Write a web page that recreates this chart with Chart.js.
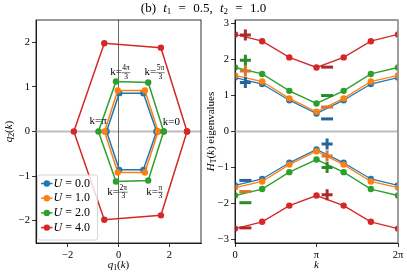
<!DOCTYPE html>
<html>
<head>
<meta charset="utf-8">
<script src="https://cdn.jsdelivr.net/npm/chart.js@4.4.1/dist/chart.umd.min.js"></script>
<style>
html, body { margin: 0; padding: 0; background: #fff; }
#wrap { position: relative; width: 407px; height: 272px; overflow: hidden; }
canvas { position: absolute; top: 0; }
#left { left: 0; }
#right { left: 205px; }
#title { position: absolute; top: 0px; left: 0; width: 407px; text-align: center;
  font: 13px "Liberation Serif", serif; color: #000; word-spacing: 4px; }
#title sub { font-size: 9px; vertical-align: -2px; line-height: 0; }
</style>
</head>
<body>
<div id="wrap">
<canvas id="left" width="205" height="272"></canvas>
<canvas id="right" width="202" height="272"></canvas>
<div id="title">(b) <i>t</i><sub>1</sub> = 0.5, <i>t</i><sub>2</sub> = 1.0</div>
</div>
<script>
// ---- values ----
const uValues = ['0.0', '1.0', '2.0', '4.0'];

// left panel: (q1, q2) at k = 0, pi/3, 2pi/3, pi, 4pi/3, 5pi/3, back to 0
const q1U0 = [1.50, 0.98, 0.03, -0.47, 0.03, 0.98, 1.50];
const q2U0 = [0, -0.86, -0.86, 0, 0.86, 0.86, 0];
const q1U1 = [1.56, 1.04, -0.03, -0.55, -0.03, 1.04, 1.56];
const q2U1 = [0, -0.92, -0.92, 0, 0.92, 0.92, 0];
const q1U2 = [1.78, 1.17, -0.10, -0.79, -0.10, 1.17, 1.78];
const q2U2 = [0, -1.10, -1.12, 0, 1.12, 1.10, 0];
const q1U4 = [2.70, 1.67, -0.56, -1.76, -0.56, 1.67, 2.70];
const q2U4 = [0, -1.88, -1.98, 0, 1.98, 1.88, 0];

// k labels on the left panel (text, numerator, denominator, anchor q1, q2)
const kNotes = [
  ['0', null, null, 2.08, 0.20],
  ['π', null, null, -0.80, 0.23],
  [null, '4π', '3', 0.07, 1.33],
  [null, '5π', '3', 1.42, 1.33],
  [null, '2π', '3', -0.04, -1.35],
  [null, 'π', '3', 1.42, -1.35]
];

// right panel: eigenvalues at k = 0, pi/3, ..., 2pi
const kGrid = [0, Math.PI / 3, 2 * Math.PI / 3, Math.PI, 4 * Math.PI / 3, 5 * Math.PI / 3, 2 * Math.PI];
const kTicks = [0, Math.PI, 2 * Math.PI];
const kTickLabels = ['0', 'π', '2π'];
const upU0 = [1.50, 1.32, 0.87, 0.50, 0.87, 1.32, 1.50];
const upU1 = [1.56, 1.39, 0.92, 0.55, 0.92, 1.39, 1.56];
const upU2 = [1.78, 1.60, 1.13, 0.78, 1.13, 1.60, 1.78];
const upU4 = [2.70, 2.51, 2.06, 1.78, 2.06, 2.51, 2.70];
const lowU0 = [-1.50, -1.32, -0.87, -0.50, -0.87, -1.32, -1.50];
const lowU1 = [-1.56, -1.39, -0.92, -0.55, -0.92, -1.39, -1.56];
const lowU2 = [-1.78, -1.60, -1.13, -0.78, -1.13, -1.60, -1.78];
const lowU4 = [-2.70, -2.51, -2.06, -1.78, -2.06, -2.51, -2.70];

// +/- sign markers: [k, value]
const plusU0 = [[0.40, 1.36], [3.55, -0.35]];
const plusU1 = [[0.40, 1.68], [3.55, -0.68]];
const plusU2 = [[0.40, 1.98], [3.55, -1.00]];
const plusU4 = [[0.40, 2.68], [3.55, -1.76]];
const minusU0 = [[3.55, 0.35], [0.40, -1.36]];
const minusU1 = [[3.55, 0.68], [0.40, -1.67]];
const minusU2 = [[3.55, 1.00], [0.40, -1.98]];
const minusU4 = [[3.55, 1.79], [0.40, -2.68]];

const colors = ['#1f77b4', '#ff7f0e', '#2ca02c', '#d62728'];
const signColors = ['#23669b', '#d8772b', '#2b8a2b', '#ab2a2b'];
const SERIF = '"Liberation Serif", serif';

// ---- helpers ----
function zip(xs, ys) { return xs.map((x, i) => ({ x: x, y: ys[i] })); }
function pairs(arr) { return arr.map(p => ({ x: p[0], y: p[1] })); }

// draws math-ish text: parts = [[text, style]] style '' roman, 'i' italic, 's' subscript
function drawRich(ctx, parts, x, y, size, align, rot) {
  ctx.save();
  ctx.translate(x, y);
  if (rot) ctx.rotate(rot);
  let w = 0;
  const items = parts.map(p => {
    const sub = p[1] === 's';
    const fs = sub ? size * 0.7 : size;
    const font = (p[1] === 'i' ? 'italic ' : '') + fs + 'px ' + SERIF;
    ctx.font = font;
    const tw = ctx.measureText(p[0]).width;
    w += tw;
    return { t: p[0], font: font, tw: tw, dy: sub ? size * 0.3 : 0 };
  });
  let cx = align === 'left' ? 0 : -w / 2;
  ctx.fillStyle = '#000';
  ctx.textAlign = 'left';
  ctx.textBaseline = 'middle';
  for (const it of items) {
    ctx.font = it.font;
    ctx.fillText(it.t, cx, it.dy);
    cx += it.tw;
  }
  ctx.restore();
}

function axis(min, max, ticks, labels, fit) {
  return {
    type: 'linear', min: min, max: max,
    afterBuildTicks: s => { s.ticks = ticks.map(v => ({ value: v })); },
    afterFit: fit,
    grid: { display: true, drawOnChartArea: false, tickLength: 4, tickColor: '#000', tickWidth: 0.8 },
    border: { display: true, color: '#000', width: 0.8 },
    ticks: {
      autoSkip: false, maxRotation: 0, padding: 2, color: '#000',
      font: { family: SERIF, size: 10.5 },
      callback: (v, i) => labels ? labels[i] : String(v).replace('-', '−')
    }
  };
}

function refLines(lines) {
  return {
    id: 'refLines',
    beforeDatasetsDraw(chart) {
      const { ctx, chartArea: a, scales } = chart;
      ctx.save();
      for (const l of lines) {
        ctx.strokeStyle = l.color;
        ctx.lineWidth = l.width;
        ctx.beginPath();
        if (l.axis === 'x') {
          const px = scales.x.getPixelForValue(l.value);
          ctx.moveTo(px, a.top); ctx.lineTo(px, a.bottom);
        } else {
          const py = scales.y.getPixelForValue(l.value);
          ctx.moveTo(a.left, py); ctx.lineTo(a.right, py);
        }
        ctx.stroke();
      }
      ctx.restore();
    }
  };
}

const frame = {
  id: 'frame',
  afterDatasetsDraw(chart) {
    const { ctx, chartArea: a } = chart;
    ctx.save();
    ctx.strokeStyle = '#000';
    ctx.lineWidth = 0.8;
    ctx.strokeRect(a.left, a.top, a.right - a.left, a.bottom - a.top);
    ctx.restore();
  }
};

// ---- left panel ----
const hexData = [[q1U0, q2U0], [q1U1, q2U1], [q1U2, q2U2], [q1U4, q2U4]];
const leftSets = hexData.map((d, i) => ({
  label: 'U = ' + uValues[i],
  data: zip(d[0], d[1]),
  showLine: true,
  borderColor: colors[i],
  backgroundColor: colors[i],
  borderWidth: 1.5,
  pointRadius: 3.2,
  pointBorderWidth: 0,
  order: 4 - i
}));

const leftExtras = {
  id: 'leftExtras',
  afterDraw(chart) {
    const { ctx, chartArea: a, scales: { x, y } } = chart;
    // k annotations
    for (const n of kNotes) {
      const px = x.getPixelForValue(n[3]);
      const py = y.getPixelForValue(n[4]);
      ctx.save();
      ctx.fillStyle = '#000';
      ctx.textBaseline = 'middle';
      if (n[0] !== null) {
        ctx.font = '11px ' + SERIF;
        ctx.textAlign = 'center';
        ctx.fillText('k=' + n[0], px, py);
      } else {
        ctx.font = '11px ' + SERIF;
        const w1 = ctx.measureText('k=').width;
        ctx.font = '7.5px ' + SERIF;
        const w2 = Math.max(ctx.measureText(n[1]).width, ctx.measureText(n[2]).width) + 1;
        let sx = px - (w1 + w2) / 2;
        ctx.font = '11px ' + SERIF;
        ctx.textAlign = 'left';
        ctx.fillText('k=', sx, py);
        ctx.font = '7.5px ' + SERIF;
        ctx.textAlign = 'center';
        ctx.fillText(n[1], sx + w1 + w2 / 2, py - 4);
        ctx.fillText(n[2], sx + w1 + w2 / 2, py + 4.5);
        ctx.strokeStyle = '#000';
        ctx.lineWidth = 0.5;
        ctx.beginPath();
        ctx.moveTo(sx + w1, py + 0.5); ctx.lineTo(sx + w1 + w2, py + 0.5);
        ctx.stroke();
      }
      ctx.restore();
    }
    // legend box, lower left inside the axes
    const lx = a.left + 1.5, ly = 175, lw = 60, lh = 65;
    ctx.save();
    ctx.fillStyle = 'rgba(255,255,255,0.8)';
    ctx.strokeStyle = '#cccccc';
    ctx.lineWidth = 0.8;
    ctx.beginPath();
    ctx.roundRect(lx, ly, lw, lh, 2.5);
    ctx.fill();
    ctx.stroke();
    for (let i = 0; i < 4; i++) {
      const ey = ly + 8.5 + i * 14.7;
      ctx.strokeStyle = colors[i];
      ctx.fillStyle = colors[i];
      ctx.lineWidth = 1.5;
      ctx.beginPath();
      ctx.moveTo(lx + 3.5, ey); ctx.lineTo(lx + 15, ey);
      ctx.stroke();
      ctx.beginPath();
      ctx.arc(lx + 9.3, ey, 3.2, 0, Math.PI * 2);
      ctx.fill();
      drawRich(ctx, [['U', 'i'], [' = ' + uValues[i], '']], lx + 16, ey, 12, 'left');
    }
    ctx.restore();
    // axis titles
    drawRich(ctx, [['q', 'i'], ['1', 's'], ['(', ''], ['k', 'i'], [')', '']], (a.left + a.right) / 2, 265, 11, 'center');
    drawRich(ctx, [['q', 'i'], ['2', 's'], ['(', ''], ['k', 'i'], [')', '']], 9, (a.top + a.bottom) / 2, 11, 'center', -Math.PI / 2);
  }
};

new Chart(document.getElementById('left'), {
  type: 'scatter',
  data: { datasets: leftSets },
  options: {
    responsive: false,
    animation: false,
    layout: { padding: { top: 20, right: 2, left: 0, bottom: 0 } },
    plugins: { legend: { display: false }, tooltip: { enabled: false } },
    scales: {
      x: axis(-3.25, 3.25, [-2, 0, 2], null, s => { s.height = 29; }),
      y: axis(-2.5, 2.5, [-2, -1, 0, 1, 2], null, s => { s.width = 36; })
    }
  },
  plugins: [
    refLines([{ axis: 'y', value: 0, color: '#bdbdbd', width: 1.8 }, { axis: 'x', value: 0, color: '#444', width: 0.8 }]),
    frame, leftExtras
  ]
});

// ---- right panel ----
const ups = [upU0, upU1, upU2, upU4];
const lows = [lowU0, lowU1, lowU2, lowU4];
const pluses = [plusU0, plusU1, plusU2, plusU4];
const minuses = [minusU0, minusU1, minusU2, minusU4];
const rightSets = [];
for (let i = 0; i < 4; i++) {
  for (const band of [ups[i], lows[i]]) {
    rightSets.push({
      data: zip(kGrid, band),
      showLine: true,
      borderColor: colors[i],
      backgroundColor: colors[i],
      borderWidth: 1.3,
      pointRadius: 3.2,
      pointBorderWidth: 0,
      clip: 0,
      order: 8 - i
    });
  }
  rightSets.push({
    data: pairs(pluses[i]),
    pointStyle: 'cross',
    pointRadius: 5.5,
    borderColor: signColors[i],
    pointBorderWidth: 3,
    order: 0
  });
  rightSets.push({
    data: pairs(minuses[i]),
    pointStyle: 'line',
    pointRadius: 6,
    borderColor: signColors[i],
    pointBorderWidth: 3,
    order: 0
  });
}

const rightExtras = {
  id: 'rightExtras',
  afterDatasetsDraw(chart) {
    const { ctx, chartArea: a, scales: { x } } = chart;
    ctx.save();
    ctx.strokeStyle = '#a0a0a0';
    ctx.lineWidth = 1.6;
    const px = x.getPixelForValue(2 * Math.PI);
    ctx.beginPath();
    ctx.moveTo(px, a.top); ctx.lineTo(px, a.bottom);
    ctx.stroke();
    ctx.restore();
  },
  afterDraw(chart) {
    const { ctx, chartArea: a } = chart;
    drawRich(ctx, [['k', 'i']], (a.left + a.right) / 2, 265, 11, 'center');
    drawRich(ctx, [['H', 'i'], ['T', 's'], ['(', ''], ['k', 'i'], [') eigenvalues', '']], 6, (a.top + a.bottom) / 2, 11, 'center', -Math.PI / 2);
  }
};

new Chart(document.getElementById('right'), {
  type: 'scatter',
  data: { datasets: rightSets },
  options: {
    responsive: false,
    animation: false,
    layout: { padding: { top: 20, right: 6, left: 0, bottom: 0 } },
    plugins: { legend: { display: false }, tooltip: { enabled: false } },
    scales: {
      x: axis(0, 2 * Math.PI, kTicks, kTickLabels, s => { s.height = 29; }),
      y: axis(-3.1, 3.1, [-3, -2, -1, 0, 1, 2, 3], null, s => { s.width = 30; })
    }
  },
  plugins: [
    refLines([{ axis: 'y', value: 0, color: '#bdbdbd', width: 1.8 }]),
    frame, rightExtras
  ]
});
</script>
</body>
</html>
